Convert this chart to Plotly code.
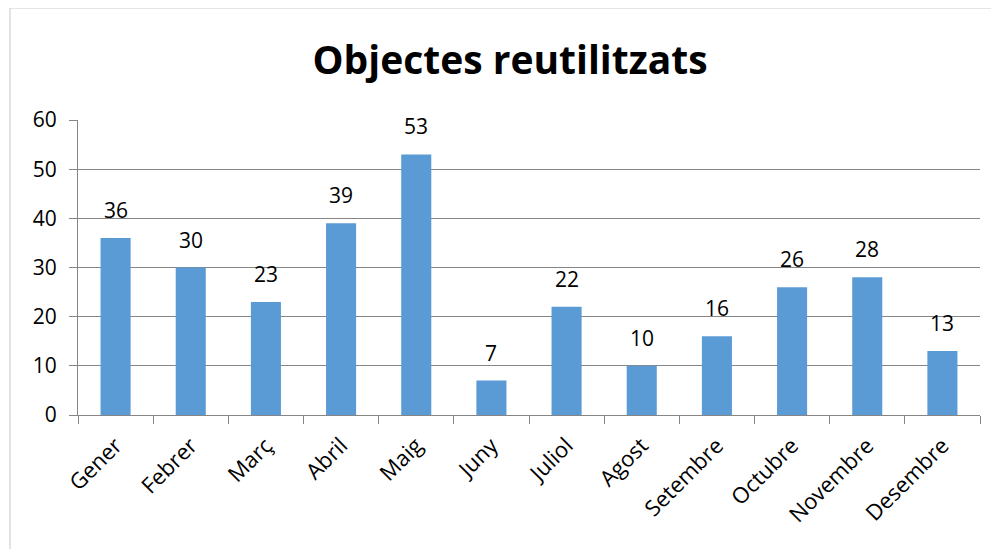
import plotly.graph_objects as go

months = ["Gener", "Febrer", "Març", "Abril", "Maig", "Juny", "Juliol", "Agost",
          "Setembre", "Octubre", "Novembre", "Desembre"]
values = [36, 30, 23, 39, 53, 7, 22, 10, 16, 26, 28, 13]
y_ticks = [0, 10, 20, 30, 40, 50, 60]

FONT = "'Open Sans', Lato, sans-serif"

fig = go.Figure()
fig.add_trace(go.Bar(
    x=months, y=values,
    marker=dict(color="#5B9BD5", line=dict(width=0)),
    width=0.4,
))

for m, v in zip(months, values):
    fig.add_annotation(x=m, y=v, text=str(v), showarrow=False,
                       yshift=28, font=dict(size=21, color="#000000", family=FONT))

fig.update_layout(
    width=991, height=541,
    margin=dict(l=70, r=19, t=112, b=134),
    paper_bgcolor="white", plot_bgcolor="white",
    showlegend=False,
    bargap=0.6,
    title=dict(text="<b>Objectes reutilitzats</b>", x=0.5066, xanchor="center",
               y=0.904, yanchor="middle",
               font=dict(size=39, color="#000000", family=FONT)),
    xaxis=dict(
        showgrid=False, showline=True, linecolor="#868686", linewidth=1,
        ticks="outside", ticklen=8, tickcolor="#868686",
        tickson="boundaries", ticklabelstandoff=8,
        tickangle=-45, tickfont=dict(size=22, color="#000000", family=FONT),
    ),
    yaxis=dict(
        range=[0, 60], tickvals=y_ticks,
        showgrid=True, gridcolor="#868686", gridwidth=1,
        showline=True, linecolor="#868686", linewidth=1,
        ticks="outside", ticklen=8, tickcolor="#868686",
        ticklabelstandoff=8,
        tickfont=dict(size=21, color="#000000", family=FONT),
        zeroline=False,
    ),
)

fig.add_shape(type="rect", xref="paper", yref="paper",
              x0=-0.0754, x1=1.2, y0=-0.8, y1=1.3797,
              line=dict(color="#C8C8C8", width=1), fillcolor="rgba(0,0,0,0)")

fig.write_html("out.html")
